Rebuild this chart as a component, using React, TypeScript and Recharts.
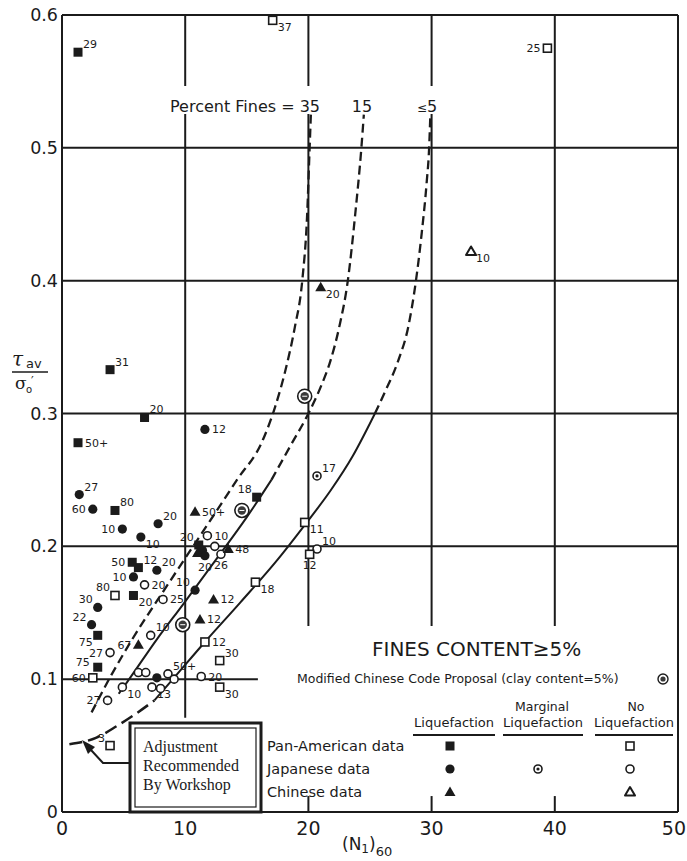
import React from "react";
import { ComposedChart, XAxis, YAxis, Line, Scatter, ReferenceLine } from "recharts";

type Pt = { n: number; csr: number; fines: string };
type Side = "ur" | "r" | "lr" | "l" | "ul" | "wl" | "ll" | "b" | "n";

const INK = "#1b1b1b";
const FONT = "'DejaVu Sans', sans-serif";

// axis ticks
const xTicks = [0, 10, 20, 30, 40, 50];
const yTicks = [0, 0.1, 0.2, 0.3, 0.4, 0.5, 0.6];

// boundary curves, (N1)60 vs cyclic stress ratio
const curve35 = [
  { n: 2.4, csr: 0.075 }, { n: 4.0, csr: 0.103 }, { n: 5.7, csr: 0.13 }, { n: 8.5, csr: 0.17 },
  { n: 11.5, csr: 0.212 }, { n: 14.2, csr: 0.25 }, { n: 16.3, csr: 0.28 }, { n: 17.3, csr: 0.305 },
  { n: 18.2, csr: 0.335 }, { n: 18.9, csr: 0.365 }, { n: 19.5, csr: 0.4 }, { n: 19.9, csr: 0.45 },
  { n: 20.1, csr: 0.5 }, { n: 20.2, csr: 0.525 },
];
const curve15Solid = [
  { n: 4.6, csr: 0.089 }, { n: 5.3, csr: 0.098 }, { n: 7.7, csr: 0.13 }, { n: 9.8, csr: 0.156 },
  { n: 12.5, csr: 0.19 }, { n: 15.0, csr: 0.222 }, { n: 17.0, csr: 0.25 },
];
const curve15Dashed = [
  { n: 17.0, csr: 0.25 }, { n: 18.5, csr: 0.275 }, { n: 20.0, csr: 0.3 }, { n: 21.0, csr: 0.32 },
  { n: 21.8, csr: 0.34 }, { n: 22.5, csr: 0.365 }, { n: 23.2, csr: 0.4 }, { n: 23.8, csr: 0.45 },
  { n: 24.3, csr: 0.5 }, { n: 24.5, csr: 0.525 },
];
const curve5Adjusted = [
  { n: 0.6, csr: 0.051 }, { n: 2.8, csr: 0.056 }, { n: 4.5, csr: 0.065 }, { n: 6.0, csr: 0.074 },
  { n: 7.5, csr: 0.084 },
];
const curve5Solid = [
  { n: 7.5, csr: 0.084 }, { n: 9.0, csr: 0.1 }, { n: 11.6, csr: 0.128 }, { n: 14.5, csr: 0.158 },
  { n: 17.5, csr: 0.19 }, { n: 19.7, csr: 0.216 }, { n: 21.8, csr: 0.242 }, { n: 23.6, csr: 0.268 },
  { n: 25.4, csr: 0.3 },
];
const curve5Dashed = [
  { n: 25.4, csr: 0.3 }, { n: 26.2, csr: 0.316 }, { n: 27.3, csr: 0.34 }, { n: 28.1, csr: 0.365 },
  { n: 28.7, csr: 0.398 }, { n: 29.2, csr: 0.436 }, { n: 29.6, csr: 0.474 }, { n: 29.8, csr: 0.5 },
  { n: 29.9, csr: 0.525 },
];

// site data, fines content as label
const panAmLiq: Pt[] = [
  { n: 1.3, csr: 0.572, fines: "29" }, { n: 3.9, csr: 0.333, fines: "31" },
  { n: 6.7, csr: 0.297, fines: "20" }, { n: 1.3, csr: 0.278, fines: "50+" },
  { n: 4.3, csr: 0.227, fines: "80" }, { n: 15.8, csr: 0.237, fines: "18" },
  { n: 11.1, csr: 0.201, fines: "20" }, { n: 5.7, csr: 0.188, fines: "50" },
  { n: 6.2, csr: 0.184, fines: "12" }, { n: 5.8, csr: 0.163, fines: "20" },
  { n: 2.9, csr: 0.133, fines: "75" }, { n: 2.9, csr: 0.109, fines: "75" },
];
const panAmNo: Pt[] = [
  { n: 17.1, csr: 0.596, fines: "37" }, { n: 39.4, csr: 0.575, fines: "25" },
  { n: 19.7, csr: 0.218, fines: "11" }, { n: 20.1, csr: 0.194, fines: "12" },
  { n: 15.7, csr: 0.173, fines: "18" }, { n: 4.3, csr: 0.163, fines: "80" },
  { n: 2.5, csr: 0.101, fines: "60" }, { n: 11.6, csr: 0.128, fines: "12" },
  { n: 12.8, csr: 0.114, fines: "30" }, { n: 12.8, csr: 0.094, fines: "30" },
  { n: 3.9, csr: 0.05, fines: "3" },
];
const japanLiq: Pt[] = [
  { n: 11.6, csr: 0.288, fines: "12" }, { n: 1.4, csr: 0.239, fines: "27" },
  { n: 2.5, csr: 0.228, fines: "60" }, { n: 4.9, csr: 0.213, fines: "10" },
  { n: 6.4, csr: 0.207, fines: "10" }, { n: 7.8, csr: 0.217, fines: "20" },
  { n: 11.4, csr: 0.197, fines: "" }, { n: 7.7, csr: 0.182, fines: "20" },
  { n: 5.8, csr: 0.177, fines: "10" }, { n: 2.9, csr: 0.154, fines: "30" },
  { n: 10.8, csr: 0.167, fines: "10" }, { n: 2.4, csr: 0.141, fines: "22" },
  { n: 7.7, csr: 0.101, fines: "" }, { n: 11.6, csr: 0.193, fines: "20" },
];
const japanMarginal: Pt[] = [{ n: 20.7, csr: 0.253, fines: "17" }];
const japanNo: Pt[] = [
  { n: 20.7, csr: 0.198, fines: "10" }, { n: 11.8, csr: 0.208, fines: "10" },
  { n: 12.4, csr: 0.2, fines: "" }, { n: 12.9, csr: 0.194, fines: "26" },
  { n: 6.7, csr: 0.171, fines: "20" }, { n: 8.2, csr: 0.16, fines: "25" },
  { n: 3.9, csr: 0.12, fines: "27" }, { n: 7.2, csr: 0.133, fines: "10" },
  { n: 3.7, csr: 0.084, fines: "27" }, { n: 4.9, csr: 0.094, fines: "10" },
  { n: 6.2, csr: 0.105, fines: "" }, { n: 6.8, csr: 0.105, fines: "" },
  { n: 7.3, csr: 0.094, fines: "13" }, { n: 8.0, csr: 0.093, fines: "" },
  { n: 8.6, csr: 0.104, fines: "50+" }, { n: 9.1, csr: 0.1, fines: "" },
  { n: 11.3, csr: 0.102, fines: "20" },
];
const chinaLiq: Pt[] = [
  { n: 21.0, csr: 0.395, fines: "20" }, { n: 10.8, csr: 0.226, fines: "50+" },
  { n: 11.0, csr: 0.195, fines: "" }, { n: 13.5, csr: 0.198, fines: "48" },
  { n: 12.3, csr: 0.16, fines: "12" }, { n: 11.2, csr: 0.145, fines: "12" },
  { n: 6.2, csr: 0.126, fines: "67" },
];
const chinaNo: Pt[] = [{ n: 33.2, csr: 0.422, fines: "10" }];
const chineseCode: Pt[] = [
  { n: 19.7, csr: 0.313, fines: "" }, { n: 14.6, csr: 0.227, fines: "" },
  { n: 9.8, csr: 0.141, fines: "" },
];

// where each fines label sits relative to its marker
const panAmLiqSide: Side[] = ["ur", "ur", "ur", "r", "ur", "ul", "ul", "l", "ur", "lr", "ll", "wl"];
const panAmNoSide: Side[] = ["lr", "l", "lr", "b", "lr", "ul", "l", "r", "ur", "lr", "ul"];
const japanLiqSide: Side[] = ["r", "ur", "l", "l", "lr", "ur", "n", "ur", "l", "ul", "ul", "ul", "n", "b"];
const japanMarginalSide: Side[] = ["ur"];
const japanNoSide: Side[] = ["ur", "r", "n", "b", "r", "r", "l", "ur", "l", "lr", "n", "n", "lr", "n", "ur", "n", "r"];
const chinaLiqSide: Side[] = ["lr", "r", "n", "r", "r", "r", "l"];
const chinaNoSide: Side[] = ["lr"];

const withSides = (pts: Pt[], sides: Side[] = []) =>
  pts.map((p, i) => ({ ...p, side: sides[i] ?? "n" }));

type Kind = "sqFill" | "sqOpen" | "ciFill" | "ciOpen" | "ciDot" | "triFill" | "triOpen" | "code";

function Mark({ kind, cx, cy }: { kind: Kind; cx: number; cy: number }) {
  switch (kind) {
    case "sqFill":
      return <rect x={cx - 4.5} y={cy - 4.5} width={9} height={9} fill={INK} />;
    case "sqOpen":
      return <rect x={cx - 4} y={cy - 4} width={8} height={8} fill="#fff" stroke={INK} strokeWidth={1.6} />;
    case "ciFill":
      return <circle cx={cx} cy={cy} r={4.6} fill={INK} />;
    case "ciOpen":
      return <circle cx={cx} cy={cy} r={4} fill="#fff" stroke={INK} strokeWidth={1.6} />;
    case "ciDot":
      return (
        <g>
          <circle cx={cx} cy={cy} r={4} fill="#fff" stroke={INK} strokeWidth={1.6} />
          <circle cx={cx} cy={cy} r={1.6} fill={INK} />
        </g>
      );
    case "triFill":
      return <path d={`M${cx},${cy - 5.5}L${cx + 5.5},${cy + 4}L${cx - 5.5},${cy + 4}Z`} fill={INK} />;
    case "triOpen":
      return (
        <path d={`M${cx},${cy - 5}L${cx + 5},${cy + 3.6}L${cx - 5},${cy + 3.6}Z`}
          fill="#fff" stroke={INK} strokeWidth={2} strokeLinejoin="round" />
      );
    case "code":
      return (
        <g>
          <circle cx={cx} cy={cy} r={7} fill="#fff" stroke={INK} strokeWidth={1.6} />
          <circle cx={cx} cy={cy} r={4.2} fill="#3a3a3a" />
          <line x1={cx - 2.5} x2={cx + 2.5} y1={cy} y2={cy} stroke="#fff" strokeWidth={1} />
        </g>
      );
  }
  return null;
}

const TAG: Record<Side, [number, number, "start" | "middle" | "end"]> = {
  ur: [5, -4, "start"],
  r: [7, 4, "start"],
  lr: [5, 11, "start"],
  l: [-7, 4, "end"],
  ul: [-5, -4, "end"],
  wl: [-8, -1, "end"],
  ll: [-5, 11, "end"],
  b: [0, 15, "middle"],
  n: [0, 0, "start"],
};

const shapeFor = (kind: Kind) => (props: any) => {
  const { cx, cy, payload } = props;
  const side: Side = payload?.side ?? "n";
  const [dx, dy, anchor] = TAG[side];
  return (
    <g>
      <Mark kind={kind} cx={cx} cy={cy} />
      {payload?.fines && side !== "n" ? (
        <text x={cx + dx} y={cy + dy} textAnchor={anchor} fontSize={11} fontFamily={FONT} fill={INK}>
          {payload.fines}
        </text>
      ) : null}
    </g>
  );
};

const XTick = (p: any) => {
  const last = p.payload.value === 50;
  return (
    <text x={last ? p.x + 8 : p.x} y={p.y + 23} textAnchor={last ? "end" : "middle"}
      fontSize={19} fontFamily={FONT} fill={INK}>
      {p.payload.value}
    </text>
  );
};
const YTick = (p: any) => (
  <text x={p.x - 4} y={p.y + 6} textAnchor="end" fontSize={17.5} fontFamily={FONT} fill={INK}>
    {p.payload.value === 0 ? "0" : p.payload.value.toFixed(1)}
  </text>
);

const gridStyle = { stroke: INK, strokeWidth: 2 };

function Notes() {
  const t = { fontFamily: FONT, fill: INK };
  return (
    <svg width={687} height={861} style={{ position: "absolute", left: 0, top: 0, pointerEvents: "none" }}>
      {/* curve captions */}
      <rect x={165} y={86} width={158} height={28} fill="#fff" />
      <rect x={350} y={86} width={27} height={28} fill="#fff" />
      <rect x={410} y={86} width={35} height={28} fill="#fff" />
      <text x={170} y={112} fontSize={16} {...t}>Percent Fines = 35</text>
      <text x={362} y={112} fontSize={16} textAnchor="middle" {...t}>15</text>
      <text x={427} y={112} fontSize={16} textAnchor="middle" {...t}>
        <tspan fontSize={12}>≤</tspan>5
      </text>

      {/* y title */}
      <text x={12} y={366} fontSize={20} fontStyle="italic" fontFamily="'DejaVu Serif', serif" fill={INK}>τ</text>
      <text x={26} y={368} fontSize={13} {...t}>av</text>
      <line x1={12} x2={48} y1={372} y2={372} stroke={INK} strokeWidth={1.6} />
      <text x={15} y={389} fontSize={17} fontFamily="'DejaVu Serif', serif" fill={INK}>σ</text>
      <text x={26} y={393} fontSize={10} {...t}>o</text>
      <text x={31} y={385} fontSize={12} {...t}>′</text>

      {/* x title */}
      <text x={342} y={850} fontSize={17} {...t}>
        (N<tspan fontSize={12} dy={3}>1</tspan><tspan dy={-3}>)</tspan>
        <tspan fontSize={13} dy={6}>60</tspan>
      </text>

      {/* legend block */}
      <text x={372} y={656} fontSize={20} {...t}>FINES CONTENT≥5%</text>
      <text x={297} y={683} fontSize={12.5} {...t}>Modified Chinese Code Proposal (clay content=5%)</text>
      <circle cx={663} cy={679} r={5} fill="#fff" stroke={INK} strokeWidth={1.4} />
      <circle cx={663} cy={679} r={2.6} fill="#3a3a3a" />

      <text x={454} y={727} fontSize={13} textAnchor="middle" {...t}>Liquefaction</text>
      <text x={542} y={711} fontSize={12.5} textAnchor="middle" {...t}>Marginal</text>
      <text x={543} y={727} fontSize={13} textAnchor="middle" {...t}>Liquefaction</text>
      <text x={636} y={711} fontSize={12.5} textAnchor="middle" {...t}>No</text>
      <text x={634} y={727} fontSize={13} textAnchor="middle" {...t}>Liquefaction</text>
      <line x1={413} x2={495} y1={735} y2={735} stroke={INK} strokeWidth={2} />
      <line x1={503} x2={583} y1={735} y2={735} stroke={INK} strokeWidth={2} />
      <line x1={595} x2={673} y1={735} y2={735} stroke={INK} strokeWidth={2} />

      <text x={267} y={751} fontSize={14.5} {...t}>Pan-American data</text>
      <text x={267} y={774} fontSize={14.5} {...t}>Japanese data</text>
      <text x={267} y={797} fontSize={14.5} {...t}>Chinese data</text>
      <Mark kind="sqFill" cx={450} cy={746} />
      <Mark kind="sqOpen" cx={630} cy={746} />
      <Mark kind="ciFill" cx={450} cy={769} />
      <Mark kind="ciDot" cx={538} cy={769} />
      <Mark kind="ciOpen" cx={630} cy={769} />
      <Mark kind="triFill" cx={450} cy={792} />
      <Mark kind="triOpen" cx={630} cy={792} />

      {/* workshop adjustment note */}
      <rect x={130} y={723} width={131} height={89} fill="#fff" stroke={INK} strokeWidth={3} />
      <rect x={135} y={728} width={121} height={79} fill="none" stroke={INK} strokeWidth={1.2} />
      <text x={143} y={752} fontSize={16} fontFamily="'Liberation Serif', serif" fill={INK}>Adjustment</text>
      <text x={143} y={771} fontSize={16} fontFamily="'Liberation Serif', serif" fill={INK}>Recommended</text>
      <text x={143} y={790} fontSize={16} fontFamily="'Liberation Serif', serif" fill={INK}>By Workshop</text>
      <polyline points="130,763 103,763 91,750" fill="none" stroke={INK} strokeWidth={2} />
      <polygon points="82,740 95,747 88,754" fill={INK} />
    </svg>
  );
}

export default function App() {
  const dashed = "9 5";
  return (
    <div style={{ position: "absolute", left: 0, top: 0, width: 687, height: 861, background: "#fff" }}>
      <ComposedChart width={687} height={861} margin={{ top: 15, right: 9, bottom: 9, left: 8 }}>
        <XAxis type="number" dataKey="n" domain={[0, 50]} ticks={xTicks} interval={0} height={40}
          tickSize={0} tickMargin={0} tickLine={false} allowDataOverflow
          axisLine={{ stroke: INK, strokeWidth: 2 }} tick={(p: any) => <XTick {...p} />} />
        <YAxis type="number" dataKey="csr" domain={[0, 0.6]} ticks={yTicks} interval={0} width={54}
          tickSize={0} tickMargin={0} tickLine={false} allowDataOverflow
          axisLine={{ stroke: INK, strokeWidth: 2 }} tick={(p: any) => <YTick {...p} />} />

        {/* frame and grid */}
        <ReferenceLine y={0.6} {...gridStyle} />
        <ReferenceLine x={50} {...gridStyle} />
        <ReferenceLine y={0.5} {...gridStyle} />
        <ReferenceLine y={0.4} {...gridStyle} />
        <ReferenceLine y={0.3} {...gridStyle} />
        <ReferenceLine y={0.2} {...gridStyle} />
        <ReferenceLine segment={[{ x: 0, y: 0.1 }, { x: 15.9, y: 0.1 }]} {...gridStyle} />
        <ReferenceLine segment={[{ x: 10, y: 0.071 }, { x: 10, y: 0.6 }]} {...gridStyle} />
        {[20, 30, 40].map((v) => (
          <ReferenceLine key={`g${v}`} segment={[{ x: v, y: 0.14 }, { x: v, y: 0.6 }]} {...gridStyle} />
        ))}
        {[20, 30, 40].map((v) => (
          <ReferenceLine key={`t${v}`} segment={[{ x: v, y: 0 }, { x: v, y: 0.012 }]} {...gridStyle} />
        ))}

        {/* boundary curves */}
        <Line data={curve35} dataKey="csr" type="monotone" stroke={INK} strokeWidth={2.3}
          strokeDasharray={dashed} dot={false} activeDot={false} isAnimationActive={false} />
        <Line data={curve15Solid} dataKey="csr" type="monotone" stroke={INK} strokeWidth={2}
          dot={false} activeDot={false} isAnimationActive={false} />
        <Line data={curve15Dashed} dataKey="csr" type="monotone" stroke={INK} strokeWidth={2.3}
          strokeDasharray={dashed} dot={false} activeDot={false} isAnimationActive={false} />
        <Line data={curve5Adjusted} dataKey="csr" type="monotone" stroke={INK} strokeWidth={2.5}
          strokeDasharray="13 6" dot={false} activeDot={false} isAnimationActive={false} />
        <Line data={curve5Solid} dataKey="csr" type="monotone" stroke={INK} strokeWidth={2}
          dot={false} activeDot={false} isAnimationActive={false} />
        <Line data={curve5Dashed} dataKey="csr" type="monotone" stroke={INK} strokeWidth={2.3}
          strokeDasharray={dashed} dot={false} activeDot={false} isAnimationActive={false} />

        {/* case histories */}
        <Scatter data={withSides(chineseCode)} shape={shapeFor("code")} isAnimationActive={false} />
        <Scatter data={withSides(japanNo, japanNoSide)} shape={shapeFor("ciOpen")} isAnimationActive={false} />
        <Scatter data={withSides(japanMarginal, japanMarginalSide)} shape={shapeFor("ciDot")} isAnimationActive={false} />
        <Scatter data={withSides(panAmNo, panAmNoSide)} shape={shapeFor("sqOpen")} isAnimationActive={false} />
        <Scatter data={withSides(chinaNo, chinaNoSide)} shape={shapeFor("triOpen")} isAnimationActive={false} />
        <Scatter data={withSides(japanLiq, japanLiqSide)} shape={shapeFor("ciFill")} isAnimationActive={false} />
        <Scatter data={withSides(panAmLiq, panAmLiqSide)} shape={shapeFor("sqFill")} isAnimationActive={false} />
        <Scatter data={withSides(chinaLiq, chinaLiqSide)} shape={shapeFor("triFill")} isAnimationActive={false} />
      </ComposedChart>
      <Notes />
    </div>
  );
}
